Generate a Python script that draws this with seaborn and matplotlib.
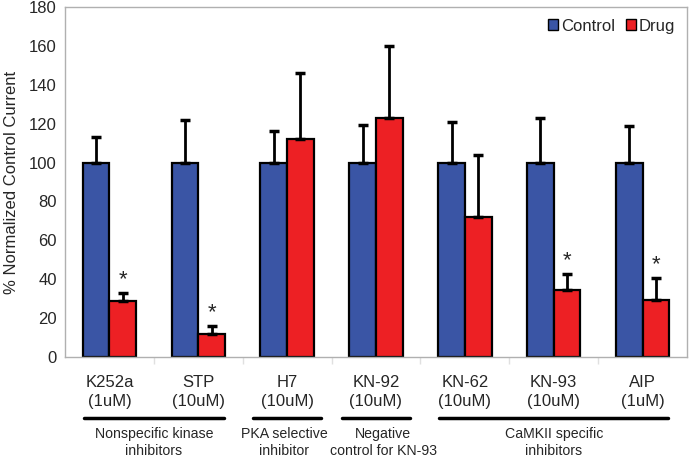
import pandas as pd
import matplotlib.pyplot as plt
import matplotlib.transforms as mtransforms
from matplotlib.patches import Patch
import seaborn as sns

categories = ["K252a\n(1uM)", "STP\n(10uM)", "H7\n(10uM)", "KN-92\n(10uM)",
              "KN-62\n(10uM)", "KN-93\n(10uM)", "AIP\n(1uM)"]
control = [100, 100, 100, 100, 100, 100, 100]
control_err = [13, 22, 16, 19.5, 21, 23, 19]
drug = [29, 12, 112, 123, 72, 34.5, 29.5]
drug_err = [4, 4, 34, 37, 32, 8, 11]
significant = [True, True, False, False, False, True, True]
groups = [("Nonspecific kinase\ninhibitors", 0, 1),
          ("PKA selective\ninhibitor", 2, 2),
          ("Negative\ncontrol for KN-93", 3, 3),
          ("CaMKII specific\ninhibitors", 4, 6)]

blue = "#3A55A5"
red = "#ED2024"
grey = "#B0B0B0"

df = pd.DataFrame({
    "category": categories * 2,
    "value": control + drug,
    "condition": ["Control"] * len(categories) + ["Drug"] * len(categories),
})

sns.set_theme(style="white")
plt.rcParams["font.family"] = ["Liberation Sans", "DejaVu Sans"]

fig, ax = plt.subplots(figsize=(6.91, 4.62), dpi=100)
fig.subplots_adjust(left=65 / 691, right=687 / 691, top=1 - 7 / 462, bottom=1 - 357 / 462)

sns.barplot(data=df, x="category", y="value", hue="condition",
            palette=[blue, red], saturation=1, width=0.6, edgecolor="black",
            linewidth=1.6, errorbar=None, legend=False, ax=ax)

# upper-only error bars, placed on the bars seaborn drew
for container, errs in zip(ax.containers, [control_err, drug_err]):
    xs = [p.get_x() + p.get_width() / 2 for p in container.patches]
    ys = [p.get_height() for p in container.patches]
    ax.errorbar(xs, ys, yerr=[[0] * len(errs), errs], fmt="none",
                ecolor="black", elinewidth=2, capsize=3.5, capthick=2.5, zorder=1)

drug_bars = ax.containers[1].patches
for bar, val, err, sig in zip(drug_bars, drug, drug_err, significant):
    if sig:
        ax.text(bar.get_x() + bar.get_width() / 2, val + err + 1.5, "*",
                ha="center", va="bottom", fontsize=16)

ax.set_ylim(0, 180)
ax.set_yticks(range(0, 181, 20))
ax.set_xlim(-0.5, len(categories) - 0.5)
ax.set_xlabel("")
ax.set_ylabel("% Normalized Control Current", fontsize=12, labelpad=7)
ax.tick_params(axis="y", labelsize=12, length=0, pad=6)
ax.tick_params(axis="x", labelsize=12, length=0, pad=13)
for lbl in ax.get_xticklabels():
    lbl.set_linespacing(1.3)
ax.set_xticks([i + 0.5 for i in range(len(categories) - 1)], minor=True)
ax.tick_params(axis="x", which="minor", length=5, color="#E0E0E0", bottom=True)

for s in ax.spines.values():
    s.set_color(grey)
    s.set_linewidth(1)

# group brackets under the tick labels
trans = mtransforms.blended_transform_factory(ax.transData, ax.transAxes)
label_shift = [0, -0.03, 0.08, 0]
for (name, i0, i1), dx in zip(groups, label_shift):
    pad = 0.38 if i0 == i1 else 0.29
    ax.plot([i0 - pad, i1 + pad], [-0.174, -0.174], color="black", lw=2.5,
            transform=trans, clip_on=False)
    ax.text((i0 + i1) / 2 + dx, -0.2, name, ha="center", va="top", fontsize=10.2,
            linespacing=1.25, transform=trans)

handles = [Patch(facecolor=blue, edgecolor="black", label="Control"),
           Patch(facecolor=red, edgecolor="black", label="Drug")]
ax.legend(handles=handles, loc="upper right", ncol=2, frameon=False,
          fontsize=12, handlelength=0.6, handleheight=0.6, handletextpad=0.2,
          columnspacing=0.6, borderaxespad=0.3)

plt.savefig("out.png", dpi=100)
